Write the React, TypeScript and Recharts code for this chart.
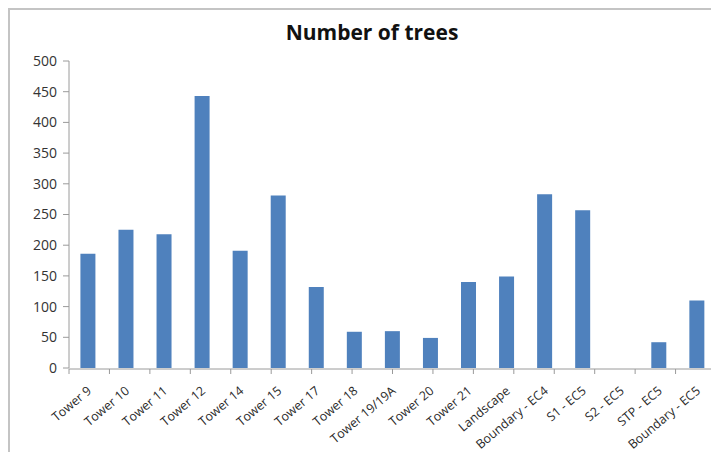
import React from 'react'
import { BarChart, Bar, XAxis, YAxis } from 'recharts'

const categories = [
  'Tower 9',
  'Tower 10',
  'Tower 11',
  'Tower 12',
  'Tower 14',
  'Tower 15',
  'Tower 17',
  'Tower 18',
  'Tower 19/19A',
  'Tower 20',
  'Tower 21',
  'Landscape',
  'Boundary - EC4',
  'S1 - EC5',
  'S2 - EC5',
  'STP - EC5',
  'Boundary - EC5',
]

const trees = [186, 225, 218, 443, 191, 281, 132, 59, 60, 49, 140, 149, 283, 257, 0, 42, 110]

const yTicks = [0, 50, 100, 150, 200, 250, 300, 350, 400, 450, 500]

// category boundaries for Excel-style tick marks between bars
const boundaryTicks = categories.map((_, i) => i).concat(categories.length)

const chartData = categories.map((name, i) => ({ name, trees: trees[i] }))

const FONT = '"Open Sans", Lato, sans-serif'
const AXIS = '#9a9a9a'

const CategoryTick = ({ x, y, payload }: any) => (
  <g transform={`translate(${x - 1},${y + 10})`}>
    <text
      x={0}
      y={0}
      dy={8}
      textAnchor="end"
      transform="rotate(-40)"
      fill="#2a2a2a"
      fontSize={12.5}
      fontFamily={FONT}
    >
      {payload.value}
    </text>
  </g>
)

export default function App() {
  return (
    <div
      style={{
        position: 'relative',
        width: 711,
        height: 444,
        borderLeft: '2px solid #c4c4c4',
        borderTop: '2px solid #c4c4c4',
        boxSizing: 'border-box',
        background: '#fff',
      }}
    >
      <div
        style={{
          position: 'absolute',
          top: 8,
          left: 0,
          width: 724,
          textAlign: 'center',
          fontFamily: FONT,
          fontWeight: 700,
          fontSize: 21,
          color: '#111',
        }}
      >
        Number of trees
      </div>
      <BarChart
        width={709}
        height={442}
        data={chartData}
        margin={{ top: 51, right: 3, left: 0, bottom: 82 }}
        barCategoryGap="30%"
      >
        <XAxis
          xAxisId="cat"
          dataKey="name"
          interval={0}
          tick={<CategoryTick />}
          tickLine={false}
          axisLine={false}
          height={1}
        />
        <XAxis
          xAxisId="grid"
          type="number"
          domain={[0, categories.length]}
          ticks={boundaryTicks}
          allowDataOverflow
          tickFormatter={() => ''}
          tickSize={5}
          tickLine={{ stroke: AXIS }}
          axisLine={{ stroke: AXIS }}
          height={1}
        />
        <YAxis
          domain={[0, 500]}
          ticks={yTicks}
          interval={0}
          width={59}
          tickSize={6}
          tickMargin={6}
          tickLine={{ stroke: AXIS }}
          axisLine={{ stroke: AXIS }}
          tick={{ fill: '#333', fontSize: 14, fontFamily: FONT }}
        />
        <Bar
          xAxisId="cat"
          dataKey="trees"
          fill="#4f81bd"
          isAnimationActive={false}
        />
      </BarChart>
    </div>
  )
}
